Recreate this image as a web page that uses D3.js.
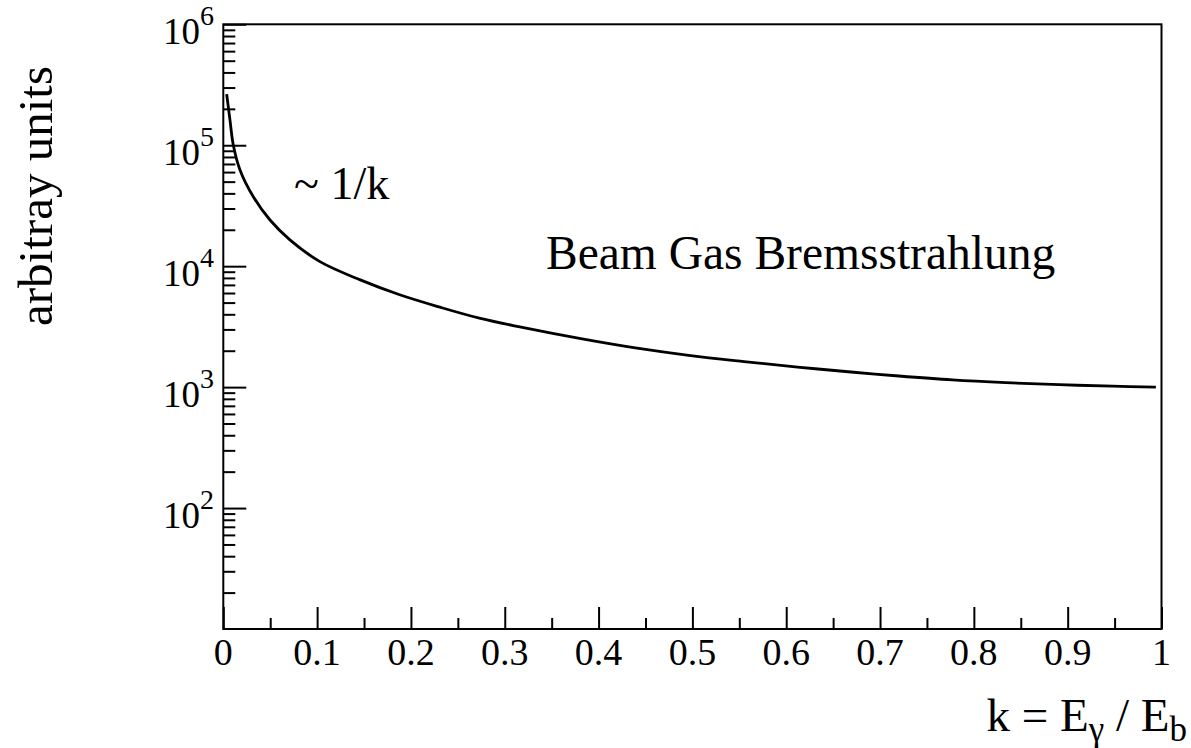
<!DOCTYPE html>
<html>
<head>
<meta charset="utf-8">
<script src="https://cdn.jsdelivr.net/npm/d3@7"></script>
<style>
  html, body { margin: 0; padding: 0; background: #fff; }
  svg { display: block; }
  text { font-family: "Liberation Serif", "Times New Roman", serif; fill: #000; }
</style>
</head>
<body>
<svg id="chart" width="1191" height="748"></svg>
<script>
// ---- data ----
const kValues = [0.0036, 0.0071, 0.0107, 0.0178, 0.032, 0.0498, 0.071, 0.103, 0.146, 0.188,
                 0.231, 0.274, 0.316, 0.384, 0.441, 0.498, 0.555, 0.612, 0.669, 0.72,
                 0.777, 0.834, 0.891, 0.948, 0.994];
const intensity = [265000, 162000, 100000, 62500, 37500, 24100, 16500, 10900, 7700, 5800,
                   4580, 3700, 3150, 2494, 2100, 1824, 1628, 1466, 1334, 1236,
                   1148, 1089, 1047, 1018, 1000];
const xTickValues = [0, 0.1, 0.2, 0.3, 0.4, 0.5, 0.6, 0.7, 0.8, 0.9, 1];
const xTickLabels = ["0", "0.1", "0.2", "0.3", "0.4", "0.5", "0.6", "0.7", "0.8", "0.9", "1"];
const xMinorTicks = [0.05, 0.15, 0.25, 0.35, 0.45, 0.55, 0.65, 0.75, 0.85, 0.95];
const yDecades = [100, 1000, 10000, 100000, 1000000];
const yDecadeExponents = ["2", "3", "4", "5", "6"];
const yDomain = [10, 1000000];

// ---- layout ----
const L = 223.3, R = 1161.5, T = 24.3, B = 629;
const svg = d3.select("#chart");
const x = d3.scaleLinear().domain([0, 1]).range([L, R]);
const y = d3.scaleLog().domain(yDomain).range([B, T]);

// curve
const data = kValues.map((k, i) => ({ k, v: intensity[i] }));
svg.append("path")
  .datum(data)
  .attr("fill", "none")
  .attr("stroke", "#000")
  .attr("stroke-width", 2.8)
  .attr("stroke-linejoin", "round")
  .attr("d", d3.line().x(d => x(d.k)).y(d => y(d.v)).curve(d3.curveCatmullRom.alpha(0.5)));

// frame
svg.append("rect")
  .attr("x", L).attr("y", T).attr("width", R - L).attr("height", B - T)
  .attr("fill", "none").attr("stroke", "#000").attr("stroke-width", 2);

// x axis ticks (inside, upward)
const gx = svg.append("g").attr("transform", `translate(0,${B})`);
gx.call(d3.axisBottom(x).tickValues(xTickValues).tickSize(-22).tickFormat(""));
gx.append("g").call(d3.axisBottom(x).tickValues(xMinorTicks).tickSize(-11).tickFormat(""));
gx.selectAll(".domain").remove();
gx.selectAll("line").attr("stroke", "#000").attr("stroke-width", 2);

// x tick labels
svg.append("g").selectAll("text")
  .data(xTickValues)
  .join("text")
  .attr("x", d => x(d))
  .attr("y", 665)
  .attr("text-anchor", "middle")
  .attr("font-size", 38)
  .text((d, i) => xTickLabels[i]);

// y axis ticks (inside, rightward)
const yMinor = [];
for (let dec = 10; dec < 1000000; dec *= 10) {
  for (let m = 2; m <= 9; m++) yMinor.push(dec * m);
}
const gy = svg.append("g").attr("transform", `translate(${L},0)`);
gy.call(d3.axisLeft(y).tickValues(yDecades).tickSize(-23).tickFormat(""));
gy.append("g").call(d3.axisLeft(y).tickValues(yMinor).tickSize(-12).tickFormat(""));
gy.selectAll(".domain").remove();
gy.selectAll("line").attr("stroke", "#000").attr("stroke-width", 2);

// y tick labels 10^n
const yl = svg.append("g").selectAll("text")
  .data(yDecades)
  .join("text")
  .attr("x", 214)
  .attr("y", d => y(d) + 20)
  .attr("text-anchor", "end");
yl.append("tspan").attr("font-size", 37).text("10");
yl.append("tspan").attr("font-size", 28).attr("dy", -19).text((d, i) => yDecadeExponents[i]);

// annotations
svg.append("text").attr("x", 294).attr("y", 199).attr("font-size", 46).text("~ 1/k");
svg.append("text").attr("x", 546).attr("y", 269).attr("font-size", 47.5).text("Beam Gas Bremsstrahlung");

// x axis title
const xt = svg.append("text").attr("x", 1187).attr("y", 731).attr("text-anchor", "end").attr("font-size", 47);
xt.append("tspan").text("k = E");
xt.append("tspan").attr("font-size", 35).attr("dy", 10).text("γ");
xt.append("tspan").attr("dy", -10).text(" / E");
xt.append("tspan").attr("font-size", 35).attr("dy", 10).text("b");

// y axis title
svg.append("text")
  .attr("transform", "translate(52,196) rotate(-90)")
  .attr("text-anchor", "middle")
  .attr("font-size", 49)
  .text("arbitray units");
</script>
</body>
</html>
